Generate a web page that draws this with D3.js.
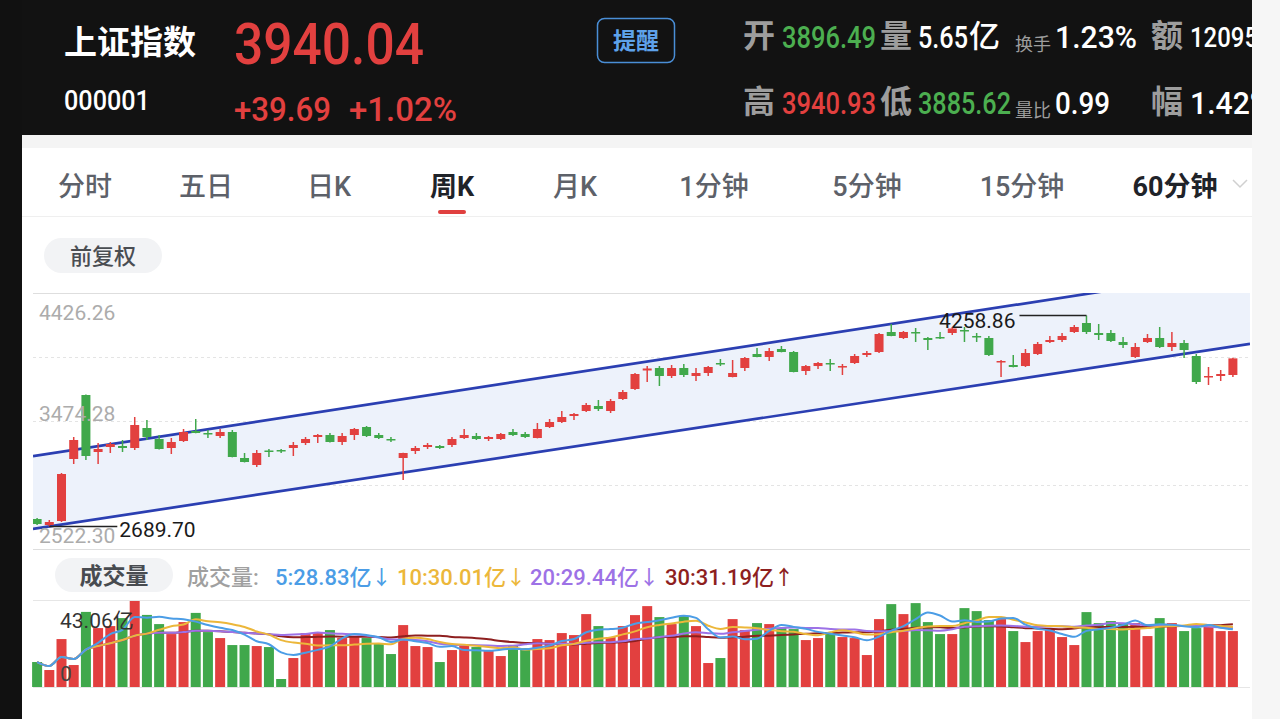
<!DOCTYPE html>
<html lang="zh-CN">
<head>
<meta charset="UTF-8">
<title>上证指数 周K</title>
<script src="https://d3js.org/d3.v7.min.js"></script>
<style>
  body { margin: 0; background: #fff; overflow: hidden; }
  svg { display: block; }
  text { font-family: Roboto, "Noto Sans CJK SC", sans-serif; }
  .cjk { font-family: "Noto Sans CJK SC", sans-serif; }
</style>
</head>
<body>
<div id="chart"></div>
<script>
// weekly candles (oldest first)
const open = [
  2745.4, 2700.8, 2730.5, 3191.7, 3667.6, 3243.7, 3280.9, 3288.3, 3273.5, 3422.2,
  3340.4, 3273.5, 3325.5, 3399.9, 3385.0, 3362.7, 3392.4, 3199.1, 3147.0, 3254.9,
  3258.6, 3273.5, 3310.6, 3355.3, 3370.2, 3318.1, 3370.2, 3429.6, 3370.2, 3340.4,
  3199.1, 3251.2, 3280.9, 3288.3, 3295.8, 3347.8, 3362.7, 3340.4, 3340.4, 3392.4,
  3377.6, 3347.8, 3429.6, 3466.8, 3511.4, 3548.6, 3585.8, 3548.6, 3637.9, 3712.3,
  3849.9, 3868.5, 3809.0, 3868.5, 3809.0, 3831.3, 3905.6, 3801.5, 3868.5, 3972.6,
  3950.3, 4009.8, 3987.4, 3846.1, 3883.1, 3905.6, 3875.9, 3905.6, 3965.2, 3987.4,
  4136.2, 4091.6, 4136.2, 4091.6, 4099.0, 4128.8, 4151.1, 4106.5, 4091.6, 3913.1,
  3890.8, 3883.1, 3972.6, 4061.8, 4076.7, 4136.2, 4203.1, 4128.8, 4128.8, 4061.8,
  3950.3, 4061.8, 4091.6, 4024.6, 4054.4, 3957.7, 3801.5, 3809.0, 3816.4
];
const close = [
  2708.2, 2723.1, 3080.1, 3333.0, 3214.0, 3266.0, 3303.2, 3273.5, 3444.5, 3355.3,
  3266.0, 3318.1, 3392.4, 3385.0, 3377.6, 3392.4, 3206.5, 3169.3, 3236.3, 3247.4,
  3251.2, 3295.8, 3340.4, 3370.2, 3318.1, 3362.7, 3414.8, 3362.7, 3347.8, 3333.0,
  3236.3, 3273.5, 3295.8, 3273.5, 3340.4, 3370.2, 3340.4, 3355.3, 3377.6, 3370.2,
  3355.3, 3414.8, 3466.8, 3504.0, 3526.3, 3593.3, 3563.5, 3623.0, 3690.0, 3823.8,
  3864.8, 3809.0, 3868.5, 3816.4, 3831.3, 3875.9, 3898.2, 3831.3, 3942.8, 3950.3,
  3994.9, 3987.4, 3838.7, 3883.1, 3905.6, 3898.2, 3883.1, 3957.7, 3980.0, 4121.3,
  4106.5, 4136.2, 4128.8, 4076.7, 4091.6, 4162.2, 4143.6, 4099.0, 3965.2, 3920.5,
  3875.9, 3980.0, 4047.0, 4076.7, 4106.5, 4173.4, 4136.2, 4113.9, 4069.3, 4039.5,
  4024.6, 4091.6, 4024.6, 4054.4, 4002.3, 3764.3, 3809.0, 3823.8, 3940.04
];
const high = [
  2752.9, 2738.0, 3087.5, 3355.3, 3672.0, 3310.6, 3318.1, 3333.0, 3504.0, 3481.7,
  3370.2, 3347.8, 3414.8, 3489.1, 3407.3, 3414.8, 3407.3, 3236.3, 3258.6, 3266.0,
  3266.0, 3318.1, 3355.3, 3377.6, 3385.0, 3385.0, 3422.2, 3437.1, 3385.0, 3355.3,
  3238.0, 3288.3, 3310.6, 3295.8, 3355.3, 3414.8, 3385.0, 3362.7, 3385.0, 3414.8,
  3392.4, 3459.4, 3489.1, 3548.6, 3533.8, 3608.1, 3630.4, 3637.9, 3704.8, 3831.3,
  3883.1, 3883.1, 3890.8, 3898.2, 3868.5, 3883.1, 3935.4, 3928.0, 3950.3, 4017.2,
  4017.2, 4032.1, 3994.9, 3890.8, 3913.1, 3935.4, 3898.2, 3972.6, 3994.9, 4128.8,
  4195.7, 4143.6, 4165.9, 4099.0, 4136.2, 4173.4, 4173.4, 4128.8, 4106.5, 3928.0,
  3965.2, 4009.8, 4061.8, 4106.5, 4128.8, 4188.3, 4258.86, 4195.7, 4151.1, 4099.0,
  4054.4, 4121.3, 4173.4, 4136.2, 4076.7, 3972.6, 3875.9, 3853.5, 3944.0
];
const low = [
  2700.8, 2689.70, 2723.1, 3154.5, 3184.2, 3154.5, 3236.3, 3243.7, 3258.6, 3333.0,
  3262.0, 3228.8, 3318.1, 3383.0, 3347.8, 3347.8, 3204.0, 3166.0, 3132.2, 3206.5,
  3236.3, 3214.0, 3295.8, 3310.6, 3315.0, 3295.8, 3333.0, 3355.3, 3340.4, 3318.1,
  3035.5, 3228.8, 3266.0, 3266.0, 3280.9, 3340.4, 3333.0, 3325.5, 3333.0, 3362.7,
  3347.8, 3345.0, 3422.2, 3459.4, 3481.7, 3541.2, 3548.6, 3533.8, 3630.4, 3704.8,
  3764.3, 3734.6, 3794.1, 3801.5, 3771.8, 3809.0, 3883.1, 3799.0, 3846.1, 3948.0,
  3920.5, 3985.0, 3836.0, 3816.4, 3861.0, 3846.1, 3816.4, 3898.2, 3950.3, 3980.0,
  4104.0, 4084.1, 4061.8, 4002.3, 4084.1, 4113.9, 4061.8, 4061.8, 3957.7, 3801.5,
  3873.0, 3875.9, 3965.2, 4054.4, 4061.8, 4128.8, 4121.3, 4076.7, 4061.8, 4017.2,
  3942.8, 4054.4, 4017.2, 3994.9, 3942.8, 3749.4, 3742.0, 3771.8, 3801.5
];
// weekly volume, 亿
const volume = [
  12.5, 8.5, 24.0, 11.0, 37.6, 29.5, 30.5, 34.5, 43.06, 36.1,
  31.5, 26.5, 32.5, 37.1, 27.5, 24.5, 21.0, 21.0, 20.5, 20.0,
  4.0, 14.5, 27.0, 27.5, 28.5, 24.5, 25.0, 24.5, 22.0, 16.5,
  31.0, 20.5, 20.0, 12.5, 18.5, 21.0, 20.0, 18.5, 15.5, 21.0,
  19.5, 24.0, 23.5, 27.0, 26.0, 36.5, 30.5, 25.0, 30.5, 36.0,
  40.5, 35.0, 31.5, 35.5, 30.5, 12.0, 14.5, 34.0, 28.5, 32.0,
  31.5, 29.5, 29.0, 23.5, 24.5, 27.0, 25.0, 24.5, 16.0, 34.0,
  41.5, 36.5, 42.0, 32.5, 26.5, 26.5, 39.5, 38.0, 33.5, 34.0,
  28.0, 22.5, 28.0, 29.0, 25.0, 21.0, 37.5, 32.0, 33.0, 32.0,
  32.0, 25.5, 34.5, 32.0, 28.0, 29.5, 31.0, 28.0, 28.0
];
// trend channel: [week index, price] at both ends
const upperChannel = [[0, 3218], [98, 4587]];
const lowerChannel = [[0, 2677], [98, 4029]];

const priceTicks = ["4426.26", "3474.28", "2522.30"];
const volTicks = ["43.06亿", "0"];
const maPeriods = [5, 10, 20, 30];
const maLabels = ["5:28.83亿", "10:30.01亿", "20:29.44亿", "30:31.19亿"];
const maArrows = ["↓", "↓", "↓", "↑"];
const tabs = ["分时", "五日", "日K", "周K", "月K", "1分钟", "5分钟", "15分钟", "60分钟"];

const RED = "#e2403f", GREEN = "#40a84b";
const maColors = ["#4b9de6", "#ecb73a", "#9d72e6", "#8e1f1f"];

const W = 1280, H = 719;
const svg = d3.select("#chart").append("svg").attr("width", W).attr("height", H);

// text helper; o.width squeezes the glyphs horizontally to that width
function txt(g, x, y, s, o = {}) {
  const t = g.append("text").attr("x", x).attr("y", y).text(s)
    .attr("font-size", o.size || 20)
    .attr("fill", o.fill || "#333")
    .attr("font-weight", o.weight || 400)
    .attr("text-anchor", o.anchor || "start");
  if (o.cls) t.attr("class", o.cls);
  if (o.width) {
    const len = t.node().getComputedTextLength();
    t.attr("x", 0).attr("y", 0)
      .attr("transform", `translate(${x},${y}) scale(${o.width / len},1)`);
  }
  return t;
}

// page frame
svg.append("rect").attr("x", 0).attr("y", 0).attr("width", 22).attr("height", H).attr("fill", "#111");
svg.append("rect").attr("x", 1252).attr("y", 0).attr("width", 28).attr("height", H).attr("fill", "#f6f6f6");
svg.append("rect").attr("x", 22).attr("y", 135).attr("width", 1230).attr("height", 13).attr("fill", "#f4f4f4");

// header
svg.append("clipPath").attr("id", "hclip").append("rect")
  .attr("x", 22).attr("y", 0).attr("width", 1230).attr("height", 135);
const hdr = svg.append("g").attr("clip-path", "url(#hclip)");
hdr.append("rect").attr("x", 22).attr("y", 0).attr("width", 1230).attr("height", 135).attr("fill", "#121212");

txt(hdr, 64, 54, "上证指数", { size: 33, fill: "#fff", weight: 700, cls: "cjk" });
txt(hdr, 234, 64, "3940.04", { size: 57, fill: RED, weight: 500, width: 190 });
txt(hdr, 64, 110, "000001", { size: 27, fill: "#fff", weight: 500, width: 86 });
txt(hdr, 234, 121, "+39.69", { size: 34, fill: RED, weight: 500, width: 97 });
txt(hdr, 349, 121, "+1.02%", { size: 34, fill: RED, weight: 500, width: 108 });

hdr.append("rect").attr("x", 597.5).attr("y", 18.5).attr("width", 77).attr("height", 44).attr("rx", 7)
  .attr("fill", "none").attr("stroke", "#4a8ed6").attr("stroke-width", 1.5);
txt(hdr, 636, 49, "提醒", { size: 23, fill: "#5ea2ea", weight: 700, anchor: "middle", cls: "cjk" });

const GREY = "#9d9d9d";
// row 1
txt(hdr, 743, 47, "开", { size: 32, fill: GREY, weight: 700, cls: "cjk" });
txt(hdr, 782, 48, "3896.49", { size: 31, fill: "#4caf50", weight: 500, width: 94 });
txt(hdr, 880, 47, "量", { size: 32, fill: GREY, weight: 700, cls: "cjk" });
txt(hdr, 918, 48, "5.65", { size: 31, fill: "#fff", weight: 500, width: 50 });
txt(hdr, 969, 47, "亿", { size: 31, fill: "#fff", weight: 500, cls: "cjk" });
txt(hdr, 1015, 51, "换手", { size: 18, fill: GREY, cls: "cjk" });
txt(hdr, 1055, 48, "1.23%", { size: 31, fill: "#fff", weight: 500, width: 82 });
txt(hdr, 1151, 47, "额", { size: 32, fill: GREY, weight: 700, cls: "cjk" });
txt(hdr, 1190, 47, "12095", { size: 27, fill: "#fff", weight: 500, width: 68 });
// row 2
txt(hdr, 743, 113, "高", { size: 32, fill: GREY, weight: 700, cls: "cjk" });
txt(hdr, 782, 114, "3940.93", { size: 31, fill: RED, weight: 500, width: 94 });
txt(hdr, 880, 113, "低", { size: 32, fill: GREY, weight: 700, cls: "cjk" });
txt(hdr, 918, 114, "3885.62", { size: 31, fill: "#4caf50", weight: 500, width: 93 });
txt(hdr, 1015, 117, "量比", { size: 18, fill: GREY, cls: "cjk" });
txt(hdr, 1055, 114, "0.99", { size: 31, fill: "#fff", weight: 500, width: 55 });
txt(hdr, 1151, 113, "幅", { size: 32, fill: GREY, weight: 700, cls: "cjk" });
txt(hdr, 1190, 114, "1.42%", { size: 31, fill: "#fff", weight: 500, width: 82 });

// period tabs
const tabX = [85, 206, 329, 452, 575, 714, 867, 1022, 1175];
const tabG = svg.append("g");
tabs.forEach((t, i) => {
  const on = t === "周K" || t === "60分钟";
  txt(tabG, tabX[i], 196, t, { size: 27, fill: on ? "#1f2329" : "#5d6169", weight: on ? 700 : 500, anchor: "middle" });
});
tabG.append("rect").attr("x", 438).attr("y", 210).attr("width", 28).attr("height", 4).attr("rx", 2).attr("fill", "#e0403f");
tabG.append("path").attr("d", "M1233,180 L1240,187 L1247,180").attr("fill", "none")
  .attr("stroke", "#d0d0d0").attr("stroke-width", 1.5);
svg.append("line").attr("x1", 22).attr("x2", 1252).attr("y1", 216.5).attr("y2", 216.5).attr("stroke", "#efefef");

// 前复权 pill
svg.append("rect").attr("x", 44).attr("y", 238).attr("width", 118).attr("height", 35).attr("rx", 17.5).attr("fill", "#f2f3f5");
txt(svg, 103, 264, "前复权", { size: 22, fill: "#4a4d52", weight: 500, anchor: "middle", cls: "cjk" });

// ---- price chart ----
const L = 33, R = 1250, TOP = 293, BOT = 549;
const n = open.length;
const x = d3.scaleBand().domain(d3.range(n)).range([31, 1239]);
const cx = i => x(i) + x.bandwidth() / 2;
const yMax = +priceTicks[0], yMin = +priceTicks[2];
const y = d3.scaleLinear().domain([yMin, yMax]).range([BOT, TOP]);

const grid = svg.append("g");
d3.range(5).forEach(k => {
  const v = yMin + k * (yMax - yMin) / 4;
  const edge = k === 0 || k === 4;
  grid.append("line").attr("x1", L).attr("x2", R)
    .attr("y1", Math.round(y(v)) + 0.5).attr("y2", Math.round(y(v)) + 0.5)
    .attr("stroke", edge ? "#dedede" : "#e4e4e4")
    .attr("stroke-dasharray", edge ? null : "3,3");
});

svg.append("clipPath").attr("id", "pclip").append("rect")
  .attr("x", L).attr("y", TOP).attr("width", R - L).attr("height", BOT - TOP);
const plot = svg.append("g").attr("clip-path", "url(#pclip)");

// channel, extended to both chart edges
const chan = (c, px) => {
  const t = (px - cx(c[0][0])) / x.step();
  return c[0][1] + (c[1][1] - c[0][1]) * t / (c[1][0] - c[0][0]);
};
const ends = [L, R];
const up = ends.map(px => [px, y(chan(upperChannel, px))]);
const lo = ends.map(px => [px, y(chan(lowerChannel, px))]);
plot.append("path").attr("d", d3.line()([...up, ...lo.slice().reverse()]) + "Z").attr("fill", "#edf2fb");

// axis labels (drawn under the candles)
txt(svg, 39, TOP + 27, priceTicks[0], { size: 21, fill: "#acacac" });
txt(svg, 39, y(+priceTicks[1]), priceTicks[1], { size: 21, fill: "#acacac" });
txt(svg, 39, BOT - 6, priceTicks[2], { size: 21, fill: "#acacac" });

[up, lo].forEach(p => plot.append("path").attr("d", d3.line()(p))
  .attr("fill", "none").attr("stroke", "#2b3fb2").attr("stroke-width", 2.7));

const weeks = d3.range(n);
const col = i => close[i] >= open[i] ? RED : GREEN;
const candles = plot.selectAll(".candle").data(weeks).enter().append("g").attr("class", "candle");
candles.append("line")
  .attr("x1", cx).attr("x2", cx)
  .attr("y1", i => y(high[i])).attr("y2", i => y(low[i]))
  .attr("stroke", col).attr("stroke-width", 1.5);
candles.append("rect")
  .attr("x", i => cx(i) - 4.5).attr("width", 9)
  .attr("y", i => y(Math.max(open[i], close[i])))
  .attr("height", i => Math.max(1.5, Math.abs(y(open[i]) - y(close[i]))))
  .attr("fill", col);

// low / high markers
const iLo = d3.minIndex(low), iHi = d3.maxIndex(high);
svg.append("line").attr("x1", cx(iLo)).attr("x2", cx(iLo) + 68)
  .attr("y1", y(low[iLo])).attr("y2", y(low[iLo])).attr("stroke", "#222").attr("stroke-width", 1.3);
txt(svg, cx(iLo) + 70, y(low[iLo]) + 11, low[iLo].toFixed(2), { size: 21, fill: "#1a1a1a" });
svg.append("line").attr("x1", cx(iHi)).attr("x2", cx(iHi) - 67)
  .attr("y1", y(high[iHi])).attr("y2", y(high[iHi])).attr("stroke", "#222").attr("stroke-width", 1.3);
txt(svg, cx(iHi) - 71, y(high[iHi]) + 12, high[iHi].toFixed(2), { size: 21, fill: "#1a1a1a", anchor: "end" });

// ---- volume ----
const VT = 600, VB = 687;
svg.append("rect").attr("x", 55).attr("y", 558).attr("width", 118).attr("height", 34).attr("rx", 17).attr("fill", "#f2f3f5");
txt(svg, 114, 584, "成交量", { size: 23, fill: "#484b50", weight: 700, anchor: "middle", cls: "cjk" });
txt(svg, 187, 585, "成交量:", { size: 22, fill: "#a0a0a0", weight: 500 });
const legX = [275, 397, 530, 665];
maLabels.forEach((s, k) => {
  const t = txt(svg, legX[k], 585, s, { size: 22, fill: maColors[k], weight: 500 });
  t.append("tspan").attr("font-size", 20).text(maArrows[k]);
});

[VT, VB].forEach(v => svg.append("line").attr("x1", L).attr("x2", R)
  .attr("y1", v + 0.5).attr("y2", v + 0.5).attr("stroke", "#e6e6e6"));

const yv = d3.scaleLinear().domain([0, d3.max(volume)]).range([VB, VT + 1]);
svg.append("g").selectAll("rect").data(weeks).enter().append("rect")
  .attr("x", i => cx(i) - 5).attr("width", 10)
  .attr("y", i => yv(volume[i])).attr("height", i => VB - yv(volume[i]))
  .attr("fill", col);

const movingAvg = p => volume.map((v, i) => d3.mean(volume.slice(Math.max(0, i - p + 1), i + 1)));
maPeriods.slice().reverse().forEach(p => {
  const k = maPeriods.indexOf(p);
  const m = movingAvg(p);
  svg.append("path")
    .attr("d", d3.line().x(cx).y(i => yv(m[i])).curve(d3.curveMonotoneX)(weeks))
    .attr("fill", "none").attr("stroke", maColors[k]).attr("stroke-width", 2);
});

txt(svg, 60, 628, volTicks[0], { size: 21, fill: "#333" });
txt(svg, 60, 681, volTicks[1], { size: 21, fill: "#444" });
</script>
</body>
</html>
